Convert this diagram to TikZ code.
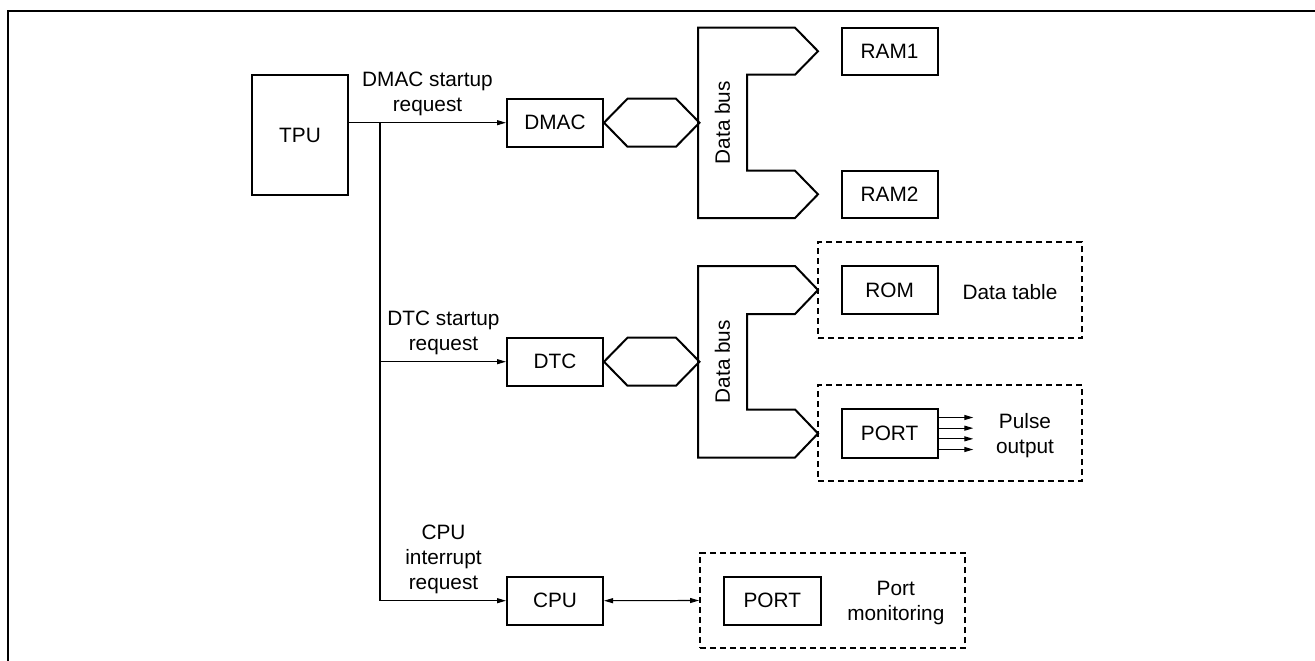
\documentclass[tikz,border=0pt]{standalone}
\usepackage{fontspec}
\setmainfont{Liberation Sans}
\usetikzlibrary{arrows.meta,positioning,calc}

\tikzset{
  blk/.style={draw, line width=2pt, minimum width=96pt, minimum height=48pt, inner sep=0pt},
  grp/.style={draw, line width=2pt, dash pattern=on 6pt off 4pt, inner sep=0pt},
  bus/.style={line width=2pt},
  wire/.style={line width=1.1pt},
  lbl/.style={align=center, inner sep=0pt}
}

\begin{document}
\begin{tikzpicture}[x=1pt, y=-1pt, font=\fontsize{20.8}{25}\selectfont, >={Triangle[length=9pt,width=5pt]}]
    \useasboundingbox (0,0) rectangle (1315,661);
    % frame
    \draw[line width=2.5pt] (7.8,661) -- (7.8,11) -- (1315,11);

    % request sources and targets
    \node[blk, minimum height=120pt] (tpu) at (300,135) {TPU};
    \node[blk] (dmac) at (555,122.7) {DMAC};
    \node[blk] (dtc) at (555,361.7) {DTC};
    \node[blk] (cpu) at (555,600.7) {CPU};

    % dashed groups
    \node[grp, minimum width=264pt, minimum height=96pt] (tbl) at (950,290.3) {};
    \node[grp, minimum width=264pt, minimum height=95.7pt] (pulse) at (950,432.9) {};
    \node[grp, minimum width=265pt, minimum height=95.6pt] (mon) at (832.5,600.5) {};

    % memories and ports
    \node[blk, minimum height=47pt] (ram1) at (889.6,51.2) {RAM1};
    \node[blk, minimum height=47pt] (ram2) at (889.6,194.3) {RAM2};
    \node[blk] (rom) at (889.6,290) {ROM};
    \node[blk, minimum height=48.4pt] (port) at (889.6,433.5) {PORT};
    \node[blk, minimum width=97pt] (pmon) at (772.3,600.8) {PORT};

    \node[lbl] (tbltxt) at (1010,291.7) {Data table};
    \node[lbl] (pulsetxt) at (1025,436) {Pulse\\output};
    \node[lbl] (montxt) at (895.8,603) {Port\\monitoring};

    % data buses
    \draw[bus] (dmac.east) -- ++(23.5,-24) -- ++(48.5,0) -- ++(23.5,24) -- ++(-23.5,24) -- ++(-48.5,0) -- cycle;
    \draw[bus] (dtc.east) -- ++(23.5,-24) -- ++(48.5,0) -- ++(23.5,24) -- ++(-23.5,24) -- ++(-48.5,0) -- cycle;
    \draw[bus] (698,27.7) -- (795,27.7) -- (818,51.2) -- (795,74.7) -- (747,74.7) -- (747,170.7)
        -- (795,170.7) -- (818,194.3) -- (795,218) -- (698,218) -- cycle;
    \draw[bus] (698,266) -- (795,266) -- (818,290) -- (795,314) -- (747,314) -- (747,409.5)
        -- (795,409.5) -- (818,433.5) -- (795,457.5) -- (698,457.5) -- cycle;
    \node[rotate=90, inner sep=0pt] (bus1txt) at (722.5,122.7) {Data bus};
    \node[rotate=90, inner sep=0pt] (bus2txt) at (722.5,361.7) {Data bus};

    % request lines
    \coordinate (split) at (380,122.7);
    \draw[wire,->] (tpu.east |- dmac.west) -- (dmac.west);
    \draw[wire,->] (split) |- (cpu.west);
    \draw[wire,->] (split |- dtc.west) -- (dtc.west);
    \draw[wire,<->] (cpu.east) -- (mon.west);
    \foreach \dy in {-16,-5.33,5.33,16}
        \draw[wire,->] ([yshift=\dy pt]port.east) -- ++(34.7,0);

    \node[lbl, anchor=south] (dmacreq) at (427.5,116) {DMAC startup\\request};
    \node[lbl, anchor=south] (dtcreq) at (443.5,355.4) {DTC startup\\request};
    \node[lbl, anchor=south] (cpureq) at (443.5,594.5) {CPU\\interrupt\\request};
\end{tikzpicture}
\end{document}
